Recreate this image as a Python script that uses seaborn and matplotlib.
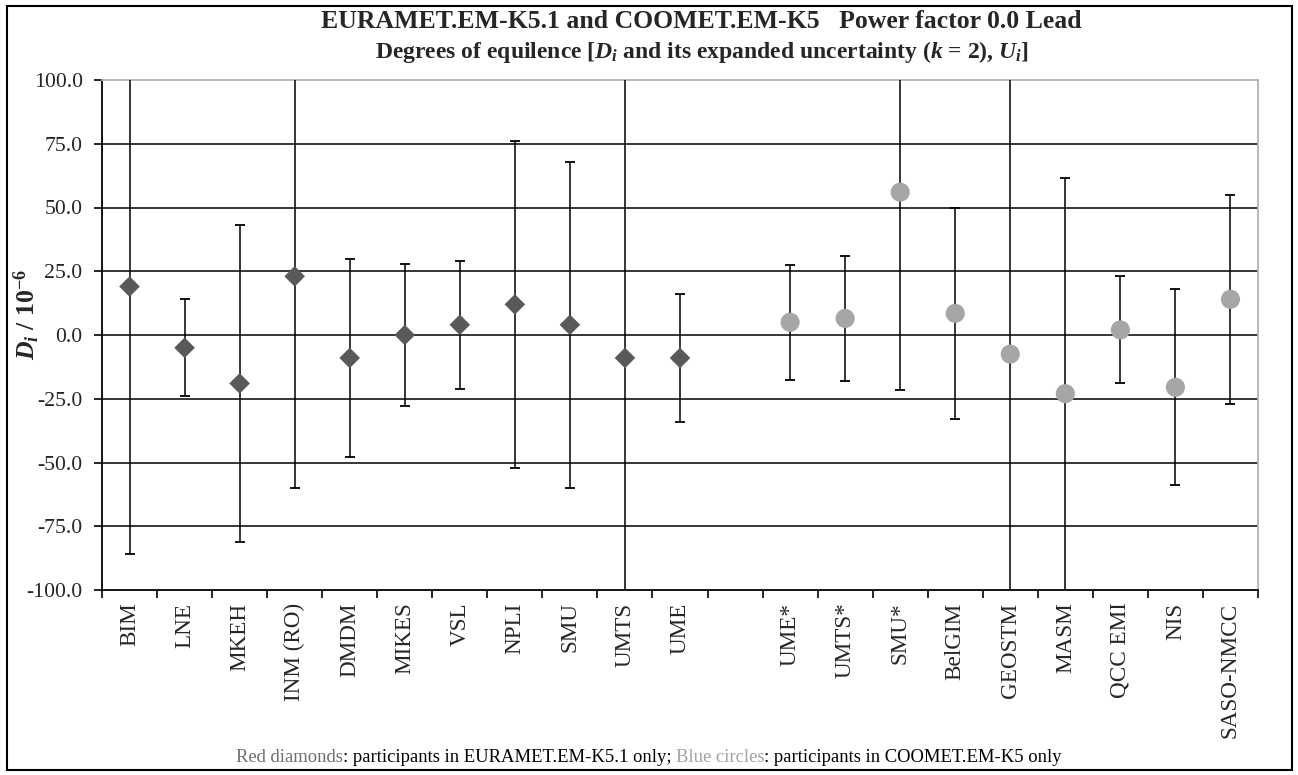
import numpy as np
import pandas as pd
import matplotlib
matplotlib.use('Agg')
import matplotlib.pyplot as plt
import seaborn as sns
from matplotlib.offsetbox import TextArea, HPacker, AnchoredOffsetbox
from matplotlib.patches import Rectangle

# EURAMET.EM-K5.1 participants (diamonds): D_i and U_i (k=2), in 1e-6
labs_eur = ['BIM', 'LNE', 'MKEH', 'INM (RO)', 'DMDM', 'MIKES', 'VSL', 'NPLI', 'SMU', 'UMTS', 'UME']
d_eur = [19, -5, -19, 23, -9, 0, 4, 12, 4, -9, -9]
u_eur = [105, 19, 62, 83, 39, 28, 25, 64, 64, 150, 25]

# COOMET.EM-K5 participants (circles)
labs_coo = ['UME*', 'UMTS*', 'SMU*', 'BelGIM', 'GEOSTM', 'MASM', 'QCC EMI', 'NIS', 'SASO-NMCC']
d_coo = [5, 6.5, 56, 8.5, -7.5, -23, 2, -20.5, 14]
u_coo = [22.5, 24.5, 77.5, 41.5, 150, 84.5, 21, 38.5, 41]

yticks = [-100, -75, -50, -25, 0, 25, 50, 75, 100]

# one empty slot between the two groups
order = labs_eur + [''] + labs_coo

df = pd.concat([
    pd.DataFrame({'lab': labs_eur, 'D': d_eur, 'U': u_eur, 'grp': 'eur'}),
    pd.DataFrame({'lab': labs_coo, 'D': d_coo, 'U': u_coo, 'grp': 'coo'}),
], ignore_index=True)
df['x'] = df['lab'].map(order.index)

sns.set_theme(style='white')
plt.rcParams['font.family'] = ['Liberation Serif', 'DejaVu Serif']
plt.rcParams['mathtext.fontset'] = 'custom'
plt.rcParams['mathtext.rm'] = 'Liberation Serif:bold'
plt.rcParams['mathtext.it'] = 'Liberation Serif:italic:bold'
plt.rcParams['mathtext.bf'] = 'Liberation Serif:bold'

fig = plt.figure(figsize=(12.98, 7.75), dpi=100)
ax = fig.add_axes([102 / 1298, 1 - 590 / 775, 1156 / 1298, 510 / 775])

# grid lines
for v in yticks[1:-1]:
    ax.axhline(v, color='#262626', lw=1.3, zorder=1)

ax.errorbar(df['x'], df['D'], yerr=df['U'], fmt='none', ecolor='black',
            elinewidth=1.1, capsize=3.5, capthick=1.3, zorder=3)

sns.scatterplot(data=df, x='x', y='D', hue='grp', style='grp', size='grp',
                markers={'eur': 'D', 'coo': 'o'},
                palette={'eur': '#595959', 'coo': '#a6a6a6'},
                sizes={'eur': 110, 'coo': 190},
                linewidth=0, legend=False, zorder=4, ax=ax)

ax.set_xlim(-0.5, len(order) - 0.5)
ax.set_ylim(-100, 100)

ax.set_xticks(range(len(order)))
ax.set_xticklabels(order, rotation=90, fontsize=16.7)
ax.set_xticks(np.arange(-0.5, len(order)), minor=True)
ax.tick_params(axis='x', which='major', length=0, pad=9)
ax.tick_params(axis='x', which='minor', length=6, width=1.2, direction='out', color='black', bottom=True)

ax.set_yticks(yticks)
ax.set_yticklabels([f'{v:.1f}' for v in yticks], fontsize=15.7)
ax.tick_params(axis='y', length=6, width=1.2, direction='out', color='black', left=True, pad=8)

ax.set_xlabel('')
ax.set_ylabel('$D_i$ / 10$^{-6}$', fontsize=18.5, fontweight='bold')
ax.yaxis.set_label_coords(-0.052, 0.54)

for s in ['left', 'bottom']:
    ax.spines[s].set_color('black')
    ax.spines[s].set_linewidth(1.3)
for s in ['top', 'right']:
    ax.spines[s].set_color('#b3b3b3')
    ax.spines[s].set_linewidth(1.3)

fig.text(0.54, 1 - 22 / 775, 'EURAMET.EM-K5.1 and COOMET.EM-K5   Power factor 0.0 Lead',
         ha='center', va='center', fontsize=18.5, fontweight='bold')
fig.text(0.541, 1 - 52 / 775,
         'Degrees of equilence [$D_i$ and its expanded uncertainty ($k$ = 2), $U_i$]',
         ha='center', va='center', fontsize=17, fontweight='bold')

# note at the bottom with coloured words
parts = [('Red diamonds', '#6e6e6e'),
         (': participants in EURAMET.EM-K5.1 only; ', 'black'),
         ('Blue circles', '#a3a3a3'),
         (': participants in COOMET.EM-K5 only', 'black')]
boxes = [TextArea(t, textprops=dict(color=c, fontsize=13.4)) for t, c in parts]
note = AnchoredOffsetbox(loc='center', child=HPacker(children=boxes, pad=0, sep=0),
                         bbox_to_anchor=(0.5, 1 - 757 / 775), bbox_transform=fig.transFigure,
                         frameon=False, pad=0, borderpad=0)
ax.add_artist(note)

fig.patches.append(Rectangle((7 / 1298, 5 / 775), 1285 / 1298, 764 / 775,
                             transform=fig.transFigure, fill=False, ec='black', lw=1.5))

fig.savefig('out.png', dpi=100)
